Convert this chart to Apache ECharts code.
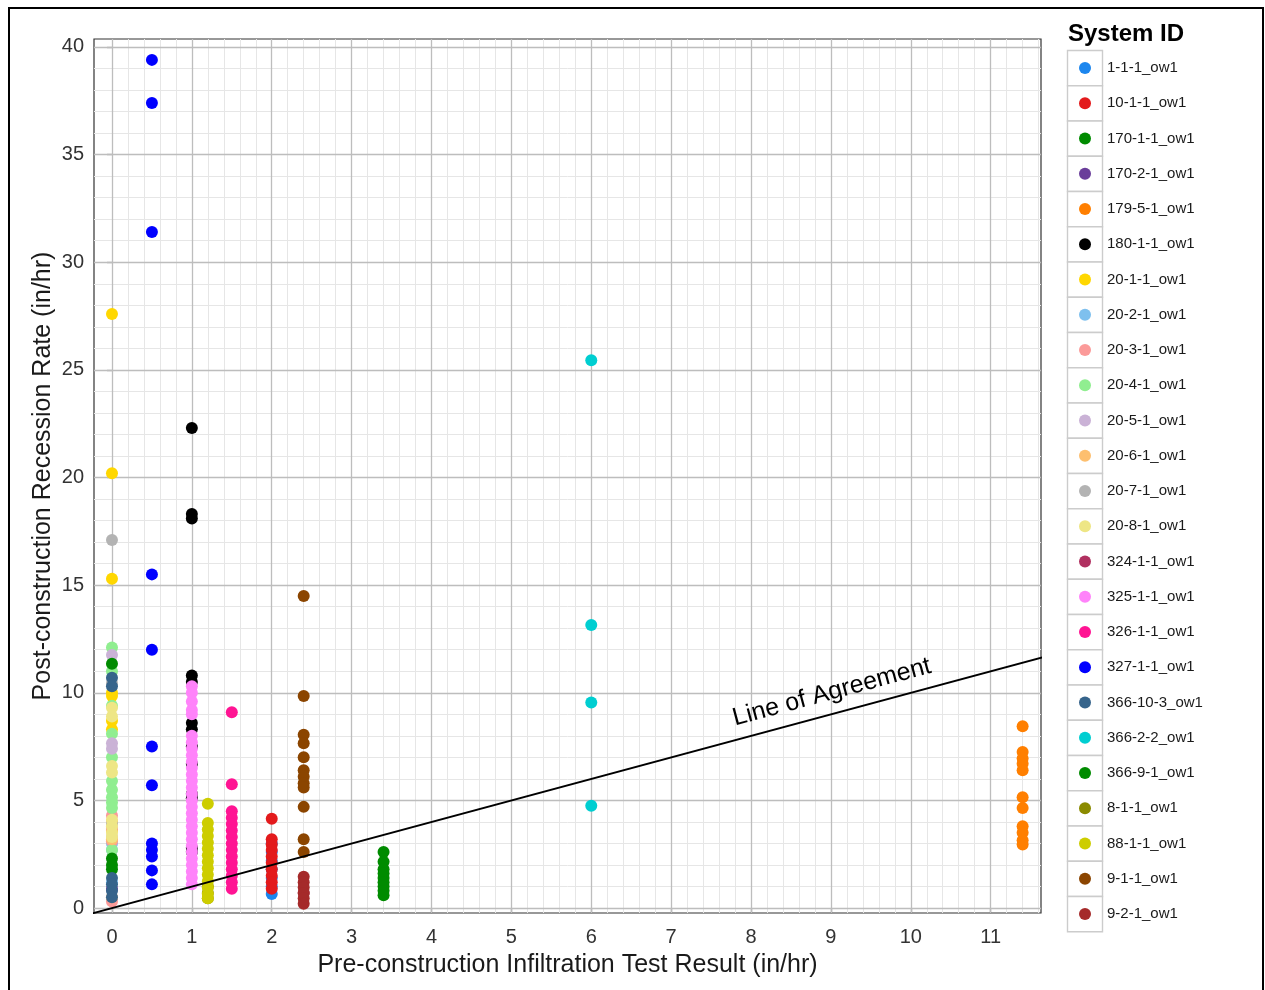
<!DOCTYPE html>
<html><head><meta charset="utf-8">
<script src="https://cdn.jsdelivr.net/npm/echarts@6/dist/echarts.min.js"></script>
<style>html,body{margin:0;padding:0;background:#fff}#c{width:1265px;height:990px}</style>
</head><body><div id="c"></div>
<script>
// ---------- DATA ----------
const systemIds = ['1-1-1_ow1','10-1-1_ow1','170-1-1_ow1','170-2-1_ow1','179-5-1_ow1','180-1-1_ow1',
  '20-1-1_ow1','20-2-1_ow1','20-3-1_ow1','20-4-1_ow1','20-5-1_ow1','20-6-1_ow1','20-7-1_ow1','20-8-1_ow1',
  '324-1-1_ow1','325-1-1_ow1','326-1-1_ow1','327-1-1_ow1','366-10-3_ow1','366-2-2_ow1','366-9-1_ow1',
  '8-1-1_ow1','88-1-1_ow1','9-1-1_ow1','9-2-1_ow1'];
// pre-construction infiltration test result (in/hr) per system
const preTest = [2.0, 2.0, 0, 0, 11.4, 1.0, 0, 0, 0, 0, 0, 0, 0, 0, 2.4, 1.0, 1.5, 0.5, 0, 6.0, 3.4, 1.2, 1.2, 2.4, 2.4];
// post-construction recession rates (in/hr) per system
const r_1_1_1   = [3.0, 2.6, 2.2, 1.8, 1.4, 1.0, 0.65];
const r_10_1_1  = [4.15, 3.2, 2.95, 2.7, 2.4, 2.1, 1.8, 1.5, 1.2, 0.9];
const r_170_1_1 = [11.35, 2.3, 2.0, 1.8];
const r_170_2_1 = [0.9];
const r_179_5_1 = [8.45, 7.25, 6.95, 6.7, 6.4, 5.15, 4.65, 3.8, 3.5, 3.15, 2.95];
const r_180_1_1 = [22.3, 18.3, 18.1, 10.8, 10.5, 8.6, 8.3, 7.5, 6.7, 5.3, 5.1, 2.8, 2.6];
const r_20_1_1  = [27.6, 20.2, 15.3, 10.0, 9.85, 8.7, 8.3, 4.0, 3.6];
const r_20_2_1  = [3.0, 2.7, 1.2];
const r_20_3_1  = [4.3, 3.7, 3.1, 0.3];
const r_20_4_1  = [12.1, 11.0, 9.4, 8.1, 7.0, 5.9, 5.5, 5.15, 4.9, 4.65, 2.7];
const r_20_5_1  = [11.75, 7.65, 7.4, 3.3];
const r_20_6_1  = [4.0, 3.2, 0.5];
const r_20_7_1  = [17.1, 10.45, 3.9];
const r_20_8_1  = [9.3, 8.9, 6.6, 6.3, 4.1, 3.8, 3.5, 3.3];
const r_324_1_1 = [0.7];
const r_325_1_1 = [10.3, 10.0, 9.6, 9.2, 9.0, 8.0, 7.7, 7.4, 7.1, 6.8, 6.5, 6.2, 5.9, 5.6, 5.3, 5.0, 4.7, 4.4, 4.1, 3.8, 3.5, 3.2, 2.9, 2.6, 2.3, 2.0, 1.7, 1.4, 1.1];
const r_326_1_1 = [9.1, 5.75, 4.5, 4.2, 3.9, 3.6, 3.3, 3.0, 2.7, 2.4, 2.1, 1.8, 1.5, 1.2, 0.9];
const r_327_1_1 = [39.4, 37.4, 31.4, 15.5, 12.0, 7.5, 5.7, 3.0, 2.7, 2.4, 1.75, 1.1];
const r_366_10_3 = [10.7, 10.3, 1.4, 1.1, 0.8, 0.5];
const r_366_2_2 = [25.45, 13.15, 9.55, 4.75];
const r_366_9_1 = [2.6, 2.15, 1.8, 1.6, 1.4, 1.2, 1.0, 0.8, 0.6];
const r_8_1_1   = [1.0, 0.7, 0.45];
const r_88_1_1  = [4.85, 3.95, 3.65, 3.35, 3.05, 2.75, 2.45, 2.15, 1.85, 1.55, 1.25, 0.95, 0.65, 0.45];
const r_9_1_1   = [14.5, 9.85, 8.05, 7.65, 7.0, 6.4, 6.1, 5.8, 5.6, 4.7, 3.2, 2.6];
const r_9_2_1   = [1.45, 1.2, 0.95, 0.7, 0.45, 0.2];
const recessionRates = [r_1_1_1, r_10_1_1, r_170_1_1, r_170_2_1, r_179_5_1, r_180_1_1, r_20_1_1, r_20_2_1,
  r_20_3_1, r_20_4_1, r_20_5_1, r_20_6_1, r_20_7_1, r_20_8_1, r_324_1_1, r_325_1_1, r_326_1_1, r_327_1_1,
  r_366_10_3, r_366_2_2, r_366_9_1, r_8_1_1, r_88_1_1, r_9_1_1, r_9_2_1];
// line of agreement (y = x) end points
const agreementLine = [[-0.3, -0.3], [11.7, 11.7]];
const xTicks = [0,1,2,3,4,5,6,7,8,9,10,11];
const yTicks = [0,5,10,15,20,25,30,35,40];

// ---------- STYLE ----------
const colors = ['#1C86EE','#E31A1C','#008B00','#6A3D9A','#FF7F00','#000000','#FFD700','#7EC0EE','#FB9A99',
  '#90EE90','#CAB2D6','#FDBF6F','#B3B3B3','#EEE685','#B03060','#FF83FA','#FF1493','#0000FF','#36648B',
  '#00CED1','#008B00','#8B8B00','#CDCD00','#8B4500','#A52A2A'];
const zOver = {'170-1-1_ow1': 3, '366-10-3_ow1': 3};
const FONT = '"Liberation Sans", Arial, sans-serif';
const X_MIN = -0.225, X_MAX = 11.63, Y_MIN = -0.23, Y_MAX = 40.37;

const minorX = [], majorX = [], minorY = [], majorY = [];
for (let i = 1; i <= 58; i++) { const v = +(i * 0.2).toFixed(1); if (i % 5) minorX.push({xAxis: v}); }
xTicks.forEach(v => majorX.push({xAxis: v}));
for (let i = 1; i <= 40; i++) { if (i % 5) minorY.push({yAxis: i}); }
yTicks.forEach(v => majorY.push({yAxis: v}));

const chart = echarts.init(document.getElementById('c'), null, {renderer: 'canvas'});

const series = [
  { type: 'line', data: [], z: 1, silent: true, legendHoverLink: false,
    markLine: { z: 1, silent: true, symbol: ['none','none'], label: {show: false}, animation: false,
      lineStyle: {color: '#e6e6e6', width: 1, type: 'solid'}, emphasis: {disabled: true},
      data: minorX.concat(minorY) } },
  { type: 'line', data: [], z: 1, silent: true, legendHoverLink: false,
    markLine: { z: 1, silent: true, symbol: ['none','none'], label: {show: false}, animation: false,
      lineStyle: {color: '#bdbdbd', width: 1.3, type: 'solid'}, emphasis: {disabled: true},
      data: majorX.concat(majorY) } }
];
systemIds.forEach((id, i) => {
  series.push({
    name: id, type: 'scatter', symbol: 'circle', symbolSize: 12,
    z: zOver[id] || 2,
    itemStyle: {color: colors[i], opacity: 1},
    data: recessionRates[i].map(v => [preTest[i], v])
  });
});
series.push({
  type: 'line', data: agreementLine, z: 5, symbol: 'none', silent: true,
  lineStyle: {color: '#000', width: 2}, clip: true
});

chart.setOption({
  animation: false,
  backgroundColor: '#fff',
  textStyle: {fontFamily: FONT},
  title: { text: 'System ID', left: 1068, top: 22, padding: 0,
    textStyle: {fontFamily: FONT, fontSize: 24, fontWeight: 'bold', color: '#000'} },
  grid: { left: 94, top: 39, right: 224, bottom: 77, show: true, borderColor: '#333', borderWidth: 1.2,
    backgroundColor: 'transparent' },
  xAxis: {
    type: 'value', min: X_MIN, max: X_MAX, interval: 1,
    name: 'Pre-construction Infiltration Test Result (in/hr)', nameLocation: 'middle', nameGap: 40,
    nameTextStyle: {fontFamily: FONT, fontSize: 25, color: '#1a1a1a'},
    axisLine: {show: false},
    axisTick: {show: true, length: 5, lineStyle: {color: '#333', width: 1.2}, customValues: xTicks},
    axisLabel: {fontFamily: FONT, fontSize: 20, color: '#333', margin: 14, customValues: xTicks},
    splitLine: {show: false}
  },
  yAxis: {
    type: 'value', min: Y_MIN, max: Y_MAX, interval: 5,
    name: 'Post-construction Recession Rate (in/hr)', nameLocation: 'middle', nameGap: 38,
    nameMoveOverlap: false,
    nameTextStyle: {fontFamily: FONT, fontSize: 25, color: '#1a1a1a'},
    axisLine: {show: false},
    axisTick: {show: true, length: 5, lineStyle: {color: '#333', width: 1.2}, customValues: yTicks},
    axisLabel: {fontFamily: FONT, fontSize: 20, color: '#333', margin: 10, customValues: yTicks},
    splitLine: {show: false}
  },
  legend: {
    data: systemIds, orient: 'vertical', left: 1079, top: 60.5, padding: 0,
    icon: 'circle', itemWidth: 12, itemHeight: 12, itemGap: 20.25,
    textStyle: {fontFamily: FONT, fontSize: 15, color: '#1a1a1a', lineHeight: 15, padding: [0, 0, 0, 11]},
    selectedMode: false
  },
  series: series
});

// legend key boxes, outer frame and line label
const boxes = [];
systemIds.forEach((id, i) => {
  boxes.push({ type: 'rect', z: -1, silent: true,
    shape: {x: 1067.5, y: 50.5 + i * 35.25, width: 35, height: 35.25},
    style: {fill: '#fff', stroke: '#cccccc', lineWidth: 1.4} });
});
const p0 = chart.convertToPixel({gridIndex: 0}, [0, 0]);
const p1 = chart.convertToPixel({gridIndex: 0}, [10, 10]);
const ang = Math.atan2(p0[1] - p1[1], p1[0] - p0[0]);
const pc = chart.convertToPixel({gridIndex: 0}, [9.08, 9.08]);
const off = 21;
chart.setOption({
  graphic: boxes.concat([
    { type: 'rect', silent: true, z: 100,
      shape: {x: 9, y: 8, width: 1254, height: 1000},
      style: {fill: 'none', stroke: '#000', lineWidth: 2} },
    { type: 'text', silent: true, z: 100,
      x: pc[0] - Math.sin(ang) * off, y: pc[1] - Math.cos(ang) * off, rotation: ang,
      style: {text: 'Line of Agreement', x: 0, y: 0, align: 'center', verticalAlign: 'middle',
        font: '25px "Liberation Sans", Arial, sans-serif', fill: '#000'} }
  ])
});
</script>
</body></html>
